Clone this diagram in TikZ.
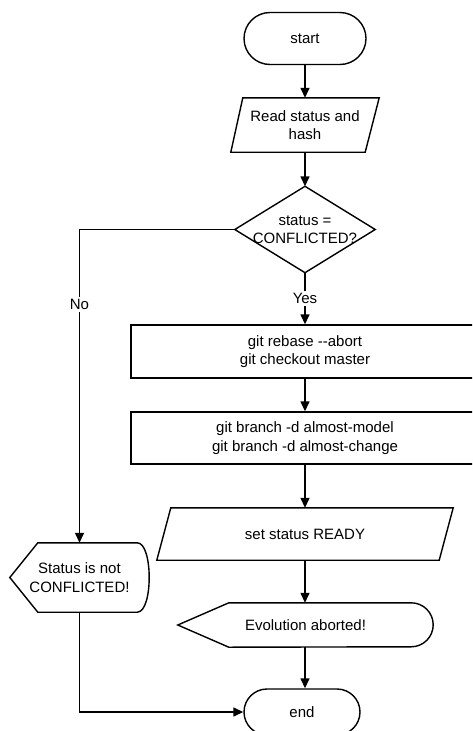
\documentclass[tikz,border=0pt]{standalone}
\usepackage{fontspec}
\setmainfont{Liberation Sans}
\usetikzlibrary{arrows.meta}
\begin{document}
\begin{tikzpicture}[x=1pt,y=-1pt,
  every node/.style={font=\fontsize{15}{18.3}\selectfont, align=center, inner sep=0pt},
  outline/.style={line width=1.4pt, line join=miter},
  flow/.style={line width=1.4pt, -{Triangle[length=10pt,width=9pt]}},
  holder/.style={draw=none},
  lbl/.style={fill=white, inner sep=2pt}
]
\clip (0,0) rectangle (472,731);
\fill[white] (0,0) rectangle (472,731);

% terminals
\node[draw, outline, minimum width=122pt, minimum height=52pt, rounded corners=26pt] (start) at (305,38.5) {start};
\node[draw, outline, minimum width=116pt, minimum height=46pt, rounded corners=23pt] (end) at (302,712) {end};

% input: read status
\node[holder, minimum width=148pt, minimum height=54pt] (read) at (305,125) {Read status and\\hash};
\draw[outline] (read.south west) -- ([xshift=12pt]read.north west) -- (read.north east)
  -- ([xshift=-14pt]read.south east) -- cycle;

% decision
\node[holder, minimum width=140pt, minimum height=86pt] (dec) at (305,229.5) {status =\\CONFLICTED?};
\draw[outline] (dec.north) -- (dec.east) -- (dec.south) -- (dec.west) -- cycle;

% processes
\node[draw, outline, minimum width=348pt, minimum height=53pt] (rb) at (305,351.5)
  {git rebase -{}-abort\\git checkout master};
\node[draw, outline, minimum width=348pt, minimum height=52pt] (br) at (305,438)
  {git branch -d almost-model\\git branch -d almost-change};

% output: set status
\node[holder, minimum width=296pt, minimum height=52pt] (ready) at (305,534) {set status READY};
\draw[outline] (ready.south west) -- ([xshift=14pt]ready.north west) -- (ready.north east)
  -- ([xshift=-14pt]ready.south east) -- cycle;

% display: evolution aborted
\node[holder, minimum width=255pt, minimum height=44pt] (evo) at (305.5,625) {Evolution aborted!};
\draw[outline] (evo.west) -- ([xshift=51pt]evo.north west) -- ([xshift=-22pt]evo.north east)
  arc[start angle=90, end angle=-90, radius=22pt] -- ([xshift=51pt]evo.south west) -- cycle;

% display: status not conflicted
\node[holder, minimum width=139pt, minimum height=69pt] (st) at (79.5,577.5) {Status is not\\CONFLICTED!};
\draw[outline] (st.west) -- ([xshift=28pt]st.north west) -- ([xshift=-12pt]st.north east)
  .. controls ([xshift=4pt]st.north east) and ([xshift=4pt]st.south east) .. ([xshift=-12pt]st.south east)
  -- ([xshift=28pt]st.south west) -- cycle;

% connectors
\draw[flow] (start.south) -- (read.north);
\draw[flow] (read.south) -- (dec.north);
\draw[flow] (dec.south) -- node[lbl] {Yes} (rb.north);
\draw[flow] (dec.west) -| node[lbl, pos=0.62] {No} (st.north);
\draw[flow] (rb.south) -- (br.north);
\draw[flow] (br.south) -- (ready.north);
\draw[flow] (ready.south) -- (ready.south |- evo.north);
\draw[flow] (ready.south |- evo.south) -- (ready.south |- end.north);
\draw[flow] (st.south) |- (end.west);
\end{tikzpicture}
\end{document}
